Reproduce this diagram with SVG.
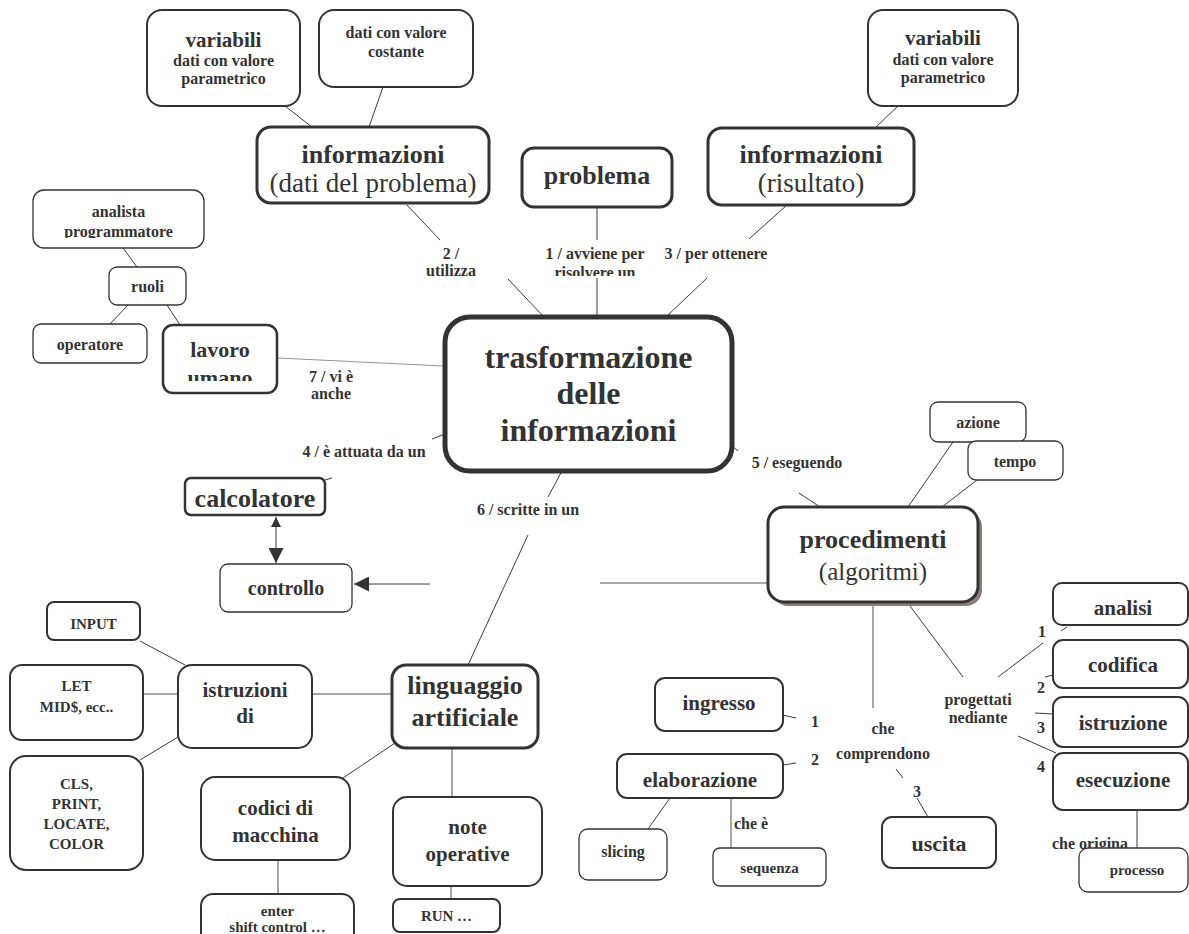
<svg xmlns="http://www.w3.org/2000/svg" width="1189" height="934" viewBox="0 0 1189 934">
  <style>
    text { font-family: "Liberation Serif", "Times New Roman", serif; fill: #333; text-anchor: middle; font-weight: bold; }
    .reg { font-weight: normal; }
    .box { fill: #fff; stroke: #333; stroke-width: 2; }
    .thin { stroke-width: 1.3; }
    .thick { stroke-width: 3; }
    .lbl { font-size: 16px; }
    .s16 { font-size: 16px; }
    .s21 { font-size: 21px; }
    .s26 { font-size: 26px; }
    #connectors line, #connectors path { stroke: #3a3a3a; stroke-width: 1; fill: none; }
    #connectors .grey { stroke: #888; stroke-width: 1.5; }
    #connectors .faint { stroke: #777; stroke-width: 0.8; }
  </style>
  <defs>
    <marker id="ah" viewBox="0 0 10 10" refX="10" refY="5" markerWidth="15" markerHeight="15" markerUnits="userSpaceOnUse" orient="auto-start-reverse">
      <path d="M0,0 L10,5 L0,10 z" fill="#333"/>
    </marker>
    <marker id="ahs" viewBox="0 0 10 10" refX="10" refY="5" markerWidth="10" markerHeight="13" markerUnits="userSpaceOnUse" orient="auto-start-reverse">
      <path d="M0,0 L10,5 L0,10 z" fill="#333"/>
    </marker>
    <clipPath id="cut276"><rect x="0" y="0" width="1189" height="276"/></clipPath>
    <clipPath id="cut381"><rect x="0" y="0" width="1189" height="381"/></clipPath>
    <clipPath id="cut238"><rect x="0" y="0" width="1189" height="238"/></clipPath>
  </defs>
  <rect width="1189" height="934" fill="#fff"/>

  <!-- connectors -->
  <g id="connectors">
    <line x1="285" y1="106" x2="312" y2="127"/>
    <line x1="383" y1="87" x2="369" y2="127"/>
    <line x1="898" y1="106" x2="875" y2="128"/>
    <line x1="407" y1="205" x2="440" y2="240"/>
    <line x1="508" y1="279" x2="543" y2="316"/>
    <line x1="597" y1="207" x2="597" y2="240"/>
    <line x1="597" y1="278" x2="597" y2="316"/>
    <line x1="787" y1="205" x2="749" y2="239"/>
    <line x1="707" y1="278" x2="667" y2="316"/>
    <line x1="123" y1="248" x2="137" y2="267"/>
    <line x1="128" y1="305" x2="110" y2="324"/>
    <line x1="167" y1="305" x2="180" y2="325"/>
    <line class="faint" x1="278" y1="358" x2="444" y2="366"/>
    <line x1="445" y1="434" x2="432" y2="439"/>
    <line x1="332" y1="478" x2="325" y2="480"/>
    <line x1="562" y1="471" x2="548" y2="497"/>
    <line x1="528" y1="535" x2="468" y2="665"/>
    <line x1="276" y1="517" x2="276" y2="563" marker-start="url(#ahs)" marker-end="url(#ah)"/>
    <line x1="430" y1="584" x2="354" y2="584" marker-end="url(#ah)"/>
    <line class="grey" x1="600" y1="583" x2="768" y2="583"/>
    <line x1="732" y1="446" x2="738" y2="451"/>
    <line x1="799" y1="493" x2="820" y2="507"/>
    <line x1="953" y1="442" x2="908" y2="507"/>
    <line x1="977" y1="480" x2="942" y2="507"/>
    <line class="grey" x1="873" y1="606" x2="873" y2="708"/>
    <line x1="896" y1="769" x2="903" y2="778"/>
    <line x1="917" y1="798" x2="928" y2="817"/>
    <line x1="783" y1="715" x2="796" y2="718"/>
    <line x1="783" y1="765" x2="796" y2="763"/>
    <line x1="670" y1="798" x2="648" y2="829"/>
    <line class="grey" x1="731" y1="798" x2="731" y2="848"/>
    <line x1="910" y1="606" x2="963" y2="677"/>
    <line x1="998" y1="677" x2="1043" y2="643"/>
    <line x1="1061" y1="631" x2="1067" y2="627"/>
    <line x1="1045" y1="677" x2="1053" y2="675"/>
    <line x1="1035" y1="713" x2="1053" y2="714"/>
    <line x1="1018" y1="736" x2="1056" y2="753"/>
    <line x1="1137" y1="810" x2="1137" y2="848"/>
    <line x1="140" y1="641" x2="185" y2="665"/>
    <line class="grey" x1="143" y1="694" x2="178" y2="694"/>
    <line x1="140" y1="760" x2="178" y2="737"/>
    <line class="grey" x1="312" y1="694" x2="392" y2="694"/>
    <line x1="395" y1="743" x2="343" y2="778"/>
    <line class="grey" x1="452" y1="748" x2="452" y2="797"/>
    <line class="grey" x1="278" y1="860" x2="278" y2="895"/>
    <line class="grey" x1="451" y1="886" x2="451" y2="900"/>
  </g>

  <!-- connector labels -->
  <g id="labels">
    <text class="lbl" x="451" y="259">2 /</text>
    <text class="lbl" x="451" y="276">utilizza</text>
    <text class="lbl" x="595" y="259">1 / avviene per</text>
    <text class="lbl" x="595" y="278" clip-path="url(#cut276)">risolvere un</text>
    <text class="lbl" x="716" y="259">3 / per ottenere</text>
    <text class="lbl" x="331" y="382">7 / vi è</text>
    <text class="lbl" x="331" y="399">anche</text>
    <text class="lbl" x="364" y="457">4 / è attuata da un</text>
    <text class="lbl" x="528" y="515">6 / scritte in un</text>
    <text class="lbl" x="797" y="468">5 / eseguendo</text>
    <text class="lbl" x="883" y="734">che</text>
    <text class="lbl" x="883" y="759">comprendono</text>
    <text class="lbl" x="815" y="727">1</text>
    <text class="lbl" x="815" y="765">2</text>
    <text class="lbl" x="917" y="797">3</text>
    <text class="lbl" x="734" y="829" style="text-anchor:start">che è</text>
    <text class="lbl" x="978" y="705">progettati</text>
    <text class="lbl" x="978" y="723">nediante</text>
    <text class="lbl" x="1042" y="637">1</text>
    <text class="lbl" x="1041" y="693">2</text>
    <text class="lbl" x="1041" y="733">3</text>
    <text class="lbl" x="1041" y="772">4</text>
    <text class="lbl" x="1090" y="849">che origina</text>
  </g>

  <!-- top -->
  <g id="n-variabili-1">
    <rect class="box" x="147" y="10" width="153" height="96" rx="15"/>
    <text x="223.5" y="47" style="font-size:21px">variabili</text>
    <text class="s16" x="223.5" y="66">dati con valore</text>
    <text class="s16" x="223.5" y="84">parametrico</text>
  </g>
  <g id="n-costante">
    <rect class="box" x="319" y="10" width="154" height="77" rx="15"/>
    <text class="s16" x="396" y="38">dati con valore</text>
    <text class="s16" x="396" y="57">costante</text>
  </g>
  <g id="n-info-dati">
    <rect class="box thick" x="257" y="127" width="232" height="76" rx="14"/>
    <text class="s26" x="373" y="163">informazioni</text>
    <text class="reg" x="373" y="192" style="font-size:27px">(dati del problema)</text>
  </g>
  <g id="n-problema">
    <rect class="box thick" x="522" y="148" width="150" height="59" rx="12"/>
    <text class="s26" x="597" y="184">problema</text>
  </g>
  <g id="n-info-risultato">
    <rect class="box thick" x="708" y="128" width="206" height="77" rx="14"/>
    <text class="s26" x="811" y="163">informazioni</text>
    <text class="reg" x="811" y="192" style="font-size:27px">(risultato)</text>
  </g>
  <g id="n-variabili-2">
    <rect class="box" x="868" y="10" width="150" height="96" rx="15"/>
    <text x="943" y="45" style="font-size:21px">variabili</text>
    <text class="s16" x="943" y="65">dati con valore</text>
    <text class="s16" x="943" y="83">parametrico</text>
  </g>

  <!-- left -->
  <g id="n-analista">
    <rect class="box thin" x="33" y="190" width="171" height="58" rx="11"/>
    <text class="s16" x="118.5" y="217">analista</text>
    <text class="s16" x="118.5" y="237" clip-path="url(#cut238)">programmatore</text>
  </g>
  <g id="n-ruoli">
    <rect class="box thin" x="109" y="267" width="77" height="38" rx="8"/>
    <text class="s16" x="147.5" y="292">ruoli</text>
  </g>
  <g id="n-operatore">
    <rect class="box thin" x="33" y="324" width="114" height="39" rx="8"/>
    <text class="s16" x="90" y="350">operatore</text>
  </g>
  <g id="n-lavoro">
    <rect class="box" x="163" y="325" width="114" height="68" rx="10" style="stroke-width:2.5"/>
    <text x="220" y="357" style="font-size:22px">lavoro</text>
    <text x="220" y="385" style="font-size:22px" clip-path="url(#cut381)">umano</text>
  </g>

  <!-- centre -->
  <g id="n-trasformazione">
    <rect class="box" x="445" y="317" width="287" height="154" rx="25" style="stroke-width:5"/>
    <text x="588.5" y="368" style="font-size:32px">trasformazione</text>
    <text x="588.5" y="404" style="font-size:32px">delle</text>
    <text x="588.5" y="441" style="font-size:32px">informazioni</text>
  </g>

  <g id="n-calcolatore">
    <rect class="box" x="185" y="478" width="140" height="37" rx="6" style="stroke-width:2.5"/>
    <text class="s26" x="255" y="507">calcolatore</text>
  </g>
  <g id="n-controllo">
    <rect class="box thin" x="220" y="564" width="132" height="48" rx="8"/>
    <text x="286" y="595" style="font-size:20px">controllo</text>
  </g>

  <!-- procedimenti -->
  <g id="n-procedimenti">
    <rect x="772" y="511" width="210" height="95" rx="16" fill="#8c7f7b"/>
    <rect class="box thick" x="768" y="507" width="210" height="95" rx="16"/>
    <text class="s26" x="873" y="548">procedimenti</text>
    <text class="reg" x="873" y="580" style="font-size:25px">(algoritmi)</text>
  </g>
  <g id="n-azione">
    <rect class="box thin" x="930" y="402" width="96" height="40" rx="8"/>
    <text class="s16" x="978" y="428">azione</text>
  </g>
  <g id="n-tempo">
    <rect class="box thin" x="968" y="441" width="95" height="39" rx="8"/>
    <text class="s16" x="1015" y="467">tempo</text>
  </g>

  <!-- bottom left -->
  <g id="n-input">
    <rect class="box" x="47" y="602" width="93" height="38" rx="7"/>
    <text x="93.5" y="629" style="font-size:15px">INPUT</text>
  </g>
  <g id="n-let">
    <rect class="box" x="10" y="665" width="133" height="75" rx="12"/>
    <text x="76.5" y="691" style="font-size:15px">LET</text>
    <text x="76.5" y="712" style="font-size:15px">MID$, ecc..</text>
  </g>
  <g id="n-cls">
    <rect class="box" x="10" y="756" width="133" height="114" rx="16"/>
    <text x="76.5" y="789" style="font-size:15px">CLS,</text>
    <text x="76.5" y="809" style="font-size:15px">PRINT,</text>
    <text x="76.5" y="829" style="font-size:15px">LOCATE,</text>
    <text x="76.5" y="849" style="font-size:15px">COLOR</text>
  </g>
  <g id="n-istruzioni-di">
    <rect class="box" x="178" y="665" width="134" height="83" rx="14"/>
    <text class="s21" x="245" y="697">istruzioni</text>
    <text class="s21" x="245" y="723">di</text>
  </g>
  <g id="n-linguaggio">
    <rect class="box thick" x="392" y="665" width="146" height="83" rx="14"/>
    <text class="s26" x="465" y="694">linguaggio</text>
    <text class="s26" x="465" y="726">artificiale</text>
  </g>
  <g id="n-codici">
    <rect class="box" x="201" y="777" width="149" height="83" rx="14"/>
    <text class="s21" x="275.5" y="815">codici di</text>
    <text class="s21" x="275.5" y="842">macchina</text>
  </g>
  <g id="n-note">
    <rect class="box" x="393" y="797" width="149" height="89" rx="14"/>
    <text class="s21" x="467.5" y="834">note</text>
    <text class="s21" x="467.5" y="861">operative</text>
  </g>
  <g id="n-enter">
    <rect class="box" x="201" y="894" width="153" height="60" rx="12"/>
    <text x="277.5" y="916" style="font-size:15px">enter</text>
    <text x="277.5" y="932" style="font-size:15px">shift control …</text>
  </g>
  <g id="n-run">
    <rect class="box" x="393" y="899" width="107" height="33" rx="7"/>
    <text x="446.5" y="921" style="font-size:15px">RUN …</text>
  </g>

  <!-- bottom middle -->
  <g id="n-ingresso">
    <rect class="box" x="655" y="678" width="128" height="53" rx="10"/>
    <text class="s21" x="719" y="710">ingresso</text>
  </g>
  <g id="n-elaborazione">
    <rect class="box" x="617" y="754" width="166" height="44" rx="10"/>
    <text class="s21" x="700" y="787">elaborazione</text>
  </g>
  <g id="n-slicing">
    <rect class="box thin" x="579" y="829" width="88" height="51" rx="9"/>
    <text class="s16" x="623" y="857">slicing</text>
  </g>
  <g id="n-sequenza">
    <rect class="box thin" x="713" y="848" width="113" height="38" rx="7"/>
    <text x="769.5" y="873" style="font-size:15px">sequenza</text>
  </g>
  <g id="n-uscita">
    <rect class="box" x="882" y="817" width="114" height="51" rx="10"/>
    <text x="939" y="851" style="font-size:22px">uscita</text>
  </g>

  <!-- right column -->
  <g id="n-analisi">
    <rect class="box" x="1053" y="583" width="135" height="42" rx="9"/>
    <text class="s21" x="1123" y="615">analisi</text>
  </g>
  <g id="n-codifica">
    <rect class="box" x="1053" y="640" width="135" height="48" rx="10"/>
    <text class="s21" x="1123" y="672">codifica</text>
  </g>
  <g id="n-istruzione">
    <rect class="box" x="1053" y="697" width="135" height="50" rx="10"/>
    <text class="s21" x="1123" y="730">istruzione</text>
  </g>
  <g id="n-esecuzione">
    <rect class="box" x="1053" y="753" width="135" height="57" rx="10"/>
    <text class="s21" x="1123" y="787">esecuzione</text>
  </g>
  <g id="n-processo">
    <rect class="box thin" x="1079" y="848" width="109" height="44" rx="9"/>
    <text x="1137" y="875" style="font-size:15px">processo</text>
  </g>
</svg>
